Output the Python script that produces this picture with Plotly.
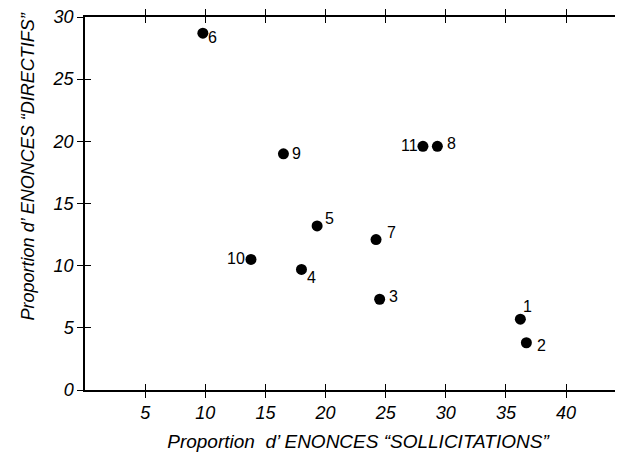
import plotly.graph_objects as go

# Data
labels = ["1", "2", "3", "4", "5", "6", "7", "8", "9", "10", "11"]
sollicitations = [36.2, 36.7, 24.5, 18.0, 19.3, 9.8, 24.2, 29.3, 16.5, 13.8, 28.1]
directifs = [5.7, 3.8, 7.3, 9.7, 13.2, 28.7, 12.1, 19.6, 19.0, 10.5, 19.6]
# label offsets in pixels (style)
label_dx = [7, 15, 14, 10, 12, 10, 15, 14, 13, -15, -13]
label_dy = [13, -3, 3, -8, 7, -4, 7, 3, 0, 1, 1]
x_ticks = [5, 10, 15, 20, 25, 30, 35, 40]
y_ticks = [0, 5, 10, 15, 20, 25, 30]

tick_font = dict(family="Liberation Sans, Arial", size=18, color="black", style="italic")
xtitle_font = dict(family="Liberation Sans, Arial", size=19, color="black", style="italic")
ytitle_font = dict(family="Liberation Sans, Arial", size=18, color="black", style="italic")

fig = go.Figure()
fig.add_trace(go.Scatter(
    x=sollicitations, y=directifs, mode="markers",
    marker=dict(size=11, color="black"),
    showlegend=False, cliponaxis=False,
))
# invisible trace for overlay axes (inner half of crossing ticks)
fig.add_trace(go.Scatter(x=[None], y=[None], xaxis="x2", yaxis="y2",
                         showlegend=False, hoverinfo="skip"))

for lab, xv, yv, dx, dy in zip(labels, sollicitations, directifs, label_dx, label_dy):
    fig.add_annotation(x=xv, y=yv, text=lab, showarrow=False,
                       xanchor="center", yanchor="middle", xshift=dx, yshift=dy,
                       font=dict(family="Liberation Sans, Arial", size=16, color="black"))

fig.add_annotation(xref="paper", yref="paper", x=-0.104, y=0.6, textangle=-90,
                   text="Proportion d’ ENONCES “DIRECTIFS”", showarrow=False,
                   xanchor="center", yanchor="middle", font=ytitle_font)

xr = [0, 45.4]
yr = [0, 30]
fig.update_layout(
    width=623, height=459,
    margin=dict(l=77, r=0, t=9, b=77, autoexpand=False),
    paper_bgcolor="white", plot_bgcolor="white",
    xaxis=dict(range=xr, tickvals=x_ticks, ticks="outside", ticklen=6, tickwidth=1,
               tickcolor="black", showline=True, linecolor="black", linewidth=1.5,
               mirror="ticks", showgrid=False, zeroline=False, tickfont=tick_font,
               automargin=False, ticklabeloverflow="allow",
               title=dict(text="Proportion  d’ ENONCES “SOLLICITATIONS”",
                          font=xtitle_font, standoff=12)),
    yaxis=dict(range=yr, tickvals=y_ticks, ticks="outside", ticklen=6, tickwidth=1,
               tickcolor="black", showline=True, linecolor="black", linewidth=1.5,
               showgrid=False, zeroline=False, tickfont=tick_font, automargin=False,
               ticklabeloverflow="allow"),
    xaxis2=dict(range=xr, overlaying="x", anchor="y2", tickvals=x_ticks,
                ticks="inside", ticklen=6, tickwidth=1, tickcolor="black",
                showline=True, linecolor="black", linewidth=1.5, mirror="ticks",
                showticklabels=False, showgrid=False, zeroline=False),
    yaxis2=dict(range=yr, overlaying="y", anchor="x2", tickvals=y_ticks,
                ticks="inside", ticklen=6, tickwidth=1, tickcolor="black",
                showline=True, linecolor="black", linewidth=1.5,
                showticklabels=False, showgrid=False, zeroline=False),
)
fig.write_html("out.html")
